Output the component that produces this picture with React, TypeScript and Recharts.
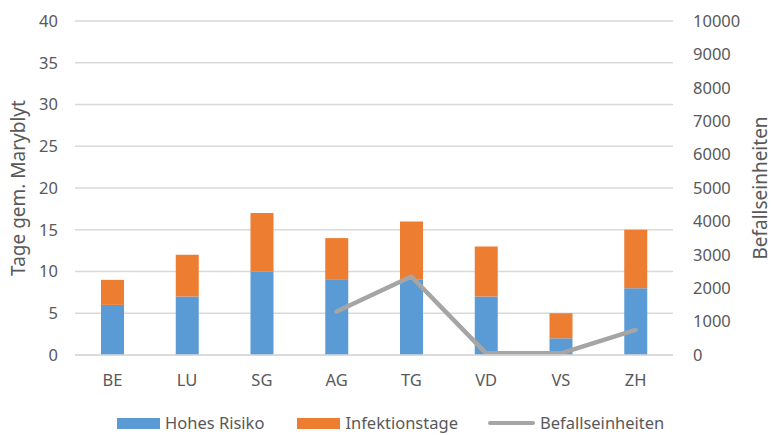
import React from "react";
import {
  ComposedChart,
  Bar,
  Line,
  XAxis,
  YAxis,
  CartesianGrid,
  Legend,
} from "recharts";

// Cantons
const cantons = ["BE", "LU", "SG", "AG", "TG", "VD", "VS", "ZH"];
// Days with high risk (left axis)
const hohesRisiko = [6, 7, 10, 9, 9, 7, 2, 8];
// Infection days, stacked on top (left axis)
const infektionstage = [3, 5, 7, 5, 7, 6, 3, 7];
// Infestation units (right axis); no values for the first three cantons
const befallseinheiten: (number | null)[] = [null, null, null, 1300, 2350, 50, 50, 750];

const leftTicks = [0, 5, 10, 15, 20, 25, 30, 35, 40];
const rightTicks = [0, 1000, 2000, 3000, 4000, 5000, 6000, 7000, 8000, 9000, 10000];

const seriesNames = ["Hohes Risiko", "Infektionstage", "Befallseinheiten"];
const BLUE = "#5B9BD5";
const ORANGE = "#ED7D31";
const GREY = "#A5A5A5";
const TEXT = "#595959";
const FONT = "'Noto Sans', sans-serif";

const data = cantons.map((c, i) => ({
  canton: c,
  hoch: hohesRisiko[i],
  infekt: infektionstage[i],
  befall: befallseinheiten[i],
}));

const W = 773;
const H = 435;

const LegendContent = () => {
  const item = (swatch: React.ReactNode, label: string, gapAfter: number) => (
    <div style={{ display: "flex", alignItems: "center", marginRight: gapAfter }}>
      {swatch}
      <span style={{ marginLeft: 5, fontSize: 16.5, color: TEXT, fontFamily: FONT, lineHeight: "24px" }}>
        {label}
      </span>
    </div>
  );
  return (
    <div style={{ display: "flex", alignItems: "center", height: 24, paddingLeft: 117 }}>
      {item(<div style={{ width: 43, height: 11, background: BLUE }} />, seriesNames[0], 33)}
      {item(<div style={{ width: 43, height: 11, background: ORANGE }} />, seriesNames[1], 30)}
      {item(
        <div style={{ width: 47, height: 4.5, background: GREY, borderRadius: 3 }} />,
        seriesNames[2],
        0
      )}
    </div>
  );
};

const AxisTitle = ({ viewBox, text, x }: any) => {
  const cy = viewBox ? viewBox.y + viewBox.height / 2 : 188;
  return (
    <text
      x={x}
      y={cy}
      transform={`rotate(-90 ${x} ${cy})`}
      textAnchor="middle"
      dominantBaseline="central"
      fill={TEXT}
      fontSize={19}
      fontFamily={FONT}
    >
      {text}
    </text>
  );
};

export default function App() {
  return (
    <div style={{ position: "absolute", left: 0, top: 0, width: W, height: H, background: "#fff" }}>
      <ComposedChart
        width={W}
        height={H}
        data={data}
        margin={{ top: 21, right: 0, left: 0, bottom: 0 }}
        style={{ fontFamily: FONT }}
      >
        <CartesianGrid
          yAxisId="left"
          vertical={false}
          stroke="#D9D9D9"
          strokeWidth={1.5}
        />
        <XAxis
          dataKey="canton"
          height={56}
          tickLine={false}
          tickSize={0}
          tickMargin={19}
          axisLine={{ stroke: "#D9D9D9", strokeWidth: 1.5 }}
          tick={{ fill: TEXT, fontSize: 16.5 }}
        />
        <YAxis
          yAxisId="left"
          orientation="left"
          width={75}
          domain={[0, 40]}
          ticks={leftTicks}
          interval={0}
          axisLine={false}
          tickLine={false}
          tickSize={0}
          tickMargin={17}
          tick={{ fill: TEXT, fontSize: 16.5 }}
          label={{ content: (p: any) => <AxisTitle {...p} text="Tage gem. Maryblyt" x={18} /> }}
        />
        <YAxis
          yAxisId="right"
          orientation="right"
          width={100}
          domain={[0, 10000]}
          ticks={rightTicks}
          interval={0}
          axisLine={false}
          tickLine={false}
          tickSize={0}
          tickMargin={20}
          tick={{ fill: TEXT, fontSize: 16.5 }}
          label={{ content: (p: any) => <AxisTitle {...p} text="Befallseinheiten" x={760} /> }}
        />
        <Bar
          yAxisId="left"
          dataKey="hoch"
          name={seriesNames[0]}
          stackId="tage"
          fill={BLUE}
          barSize={23}
          isAnimationActive={false}
        />
        <Bar
          yAxisId="left"
          dataKey="infekt"
          name={seriesNames[1]}
          stackId="tage"
          fill={ORANGE}
          barSize={23}
          isAnimationActive={false}
        />
        <Line
          yAxisId="right"
          dataKey="befall"
          name={seriesNames[2]}
          stroke={GREY}
          strokeWidth={4.5}
          strokeLinecap="round"
          strokeLinejoin="round"
          dot={false}
          activeDot={false}
          isAnimationActive={false}
        />
        <Legend verticalAlign="bottom" align="left" content={<LegendContent />} />
      </ComposedChart>
    </div>
  );
}
